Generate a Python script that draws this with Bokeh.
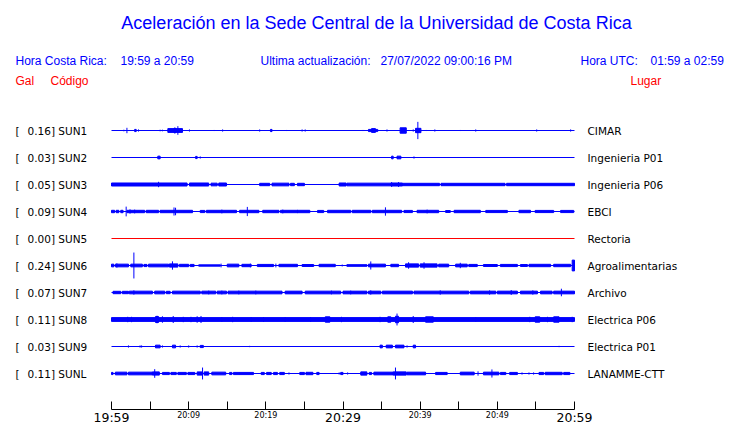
from bokeh.plotting import figure
from bokeh.models import Label, FixedTicker, Range1d, ColumnDataSource, LinearAxis
from bokeh.embed import file_html
from bokeh.resources import INLINE

# ---------------- data ----------------
title_text = "Aceleración en la Sede Central de la Universidad de Costa Rica"
hora_cr = "19:59 a 20:59"
hora_utc = "01:59 a 02:59"
actualizacion = "27/07/2022 09:00:16 PM"

stations = ["SUN1", "SUN2", "SUN3", "SUN4", "SUN5", "SUN6", "SUN7", "SUN8", "SUN9", "SUNL"]
peak_gal = [0.16, 0.03, 0.05, 0.09, 0.00, 0.24, 0.07, 0.11, 0.03, 0.11]
places = ["CIMAR", "Ingenieria P01", "Ingenieria P06", "EBCI", "Rectoria",
          "Agroalimentarias", "Archivo", "Electrica P06", "Electrica P01", "LANAMME-CTT"]
trace_colors = ["#0000ff", "#0000ff", "#0000ff", "#0000ff", "#ff0000",
                "#0000ff", "#0000ff", "#0000ff", "#0000ff", "#0000ff"]

small_label_minutes = [10, 20, 40, 50]
small_label_texts = ["20:09", "20:19", "20:39", "20:49"]
other_tick_minutes = [0, 5, 15, 25, 30, 35, 45, 55, 60]
big_label_minutes = [0, 30, 60]
big_label_texts = ["19:59", "20:29", "20:59"]

# bursts: (start minute, end minute, half amplitude in Gal); start == end -> spike
sun1 = [(1.6, 1.6, 0.015), (2.0, 2.0, 0.05), (3.0, 3.2, 0.02), (3.5, 3.5, 0.02), (6.3, 6.3, 0.015),
        (6.6, 6.6, 0.015), (7.3, 9.2, 0.035), (8.1, 8.3, 0.045), (8.6, 8.6, 0.08), (10.1, 10.1, 0.02),
        (13.3, 13.3, 0.01), (14.4, 14.4, 0.02), (19.2, 19.2, 0.02), (20.6, 20.8, 0.02), (22.7, 22.7, 0.01),
        (24.7, 24.7, 0.02), (25.1, 25.1, 0.02), (32.5, 32.5, 0.01), (32.7, 32.7, 0.01), (33.3, 34.5, 0.02),
        (33.7, 34.2, 0.035), (35.7, 35.7, 0.02), (37.4, 38.2, 0.05), (39.1, 39.1, 0.02), (39.4, 40.1, 0.04),
        (39.7, 39.7, 0.16), (40.8, 40.8, 0.01), (41.9, 41.9, 0.02), (45.2, 45.2, 0.01), (47.2, 47.2, 0.02),
        (55.1, 55.1, 0.02), (59.5, 59.5, 0.02)]
sun2 = [(6.0, 6.3, 0.025), (10.9, 11.1, 0.02), (11.5, 11.5, 0.02), (36.3, 36.5, 0.025),
        (37.0, 37.5, 0.025), (39.2, 39.2, 0.02)]
sun3 = [(0.0, 9.8, 0.028), (6.1, 6.1, 0.05), (10.1, 12.6, 0.028), (12.9, 13.7, 0.025), (13.9, 14.9, 0.028),
        (19.2, 20.5, 0.022), (20.8, 23.0, 0.025), (23.2, 23.7, 0.022), (24.1, 25.0, 0.022),
        (29.5, 30.4, 0.028), (30.5, 36.2, 0.025), (36.2, 37.7, 0.028), (36.3, 36.3, 0.045),
        (37.2, 37.2, 0.045), (37.7, 42.5, 0.022), (42.7, 51.0, 0.022), (51.2, 60.0, 0.022)]
sun4 = [(0.0, 0.4, 0.022), (0.6, 0.95, 0.022), (1.2, 1.5, 0.022), (1.9, 1.9, 0.09), (2.0, 4.3, 0.022),
        (2.4, 2.4, 0.04), (3.0, 3.0, 0.035), (4.5, 6.1, 0.022), (6.3, 10.5, 0.022), (8.1, 8.1, 0.075),
        (8.3, 8.3, 0.07), (11.5, 12.1, 0.02), (12.3, 16.2, 0.022), (14.3, 14.3, 0.035), (16.6, 19.1, 0.022),
        (17.6, 17.6, 0.085), (19.6, 21.7, 0.022), (21.9, 25.7, 0.022), (22.2, 22.2, 0.035),
        (24.1, 24.1, 0.03), (26.7, 27.5, 0.02), (28.0, 31.0, 0.022), (31.2, 33.6, 0.022),
        (33.8, 37.6, 0.022), (35.5, 35.5, 0.077), (37.9, 39.0, 0.02), (39.6, 42.4, 0.022),
        (40.9, 40.9, 0.035), (43.3, 43.9, 0.018), (44.4, 47.8, 0.022), (48.5, 51.3, 0.02),
        (52.8, 54.3, 0.022), (54.9, 57.3, 0.02), (58.2, 59.9, 0.02)]
sun5 = []
sun6 = [(0.0, 0.3, 0.025), (0.5, 2.2, 0.025), (0.7, 0.7, 0.04), (2.5, 4.0, 0.025), (2.9, 2.9, 0.24),
        (4.2, 4.6, 0.02), (4.8, 7.4, 0.025), (7.5, 8.6, 0.03), (7.9, 7.9, 0.077), (8.8, 10.0, 0.022),
        (10.2, 10.7, 0.02), (11.3, 14.1, 0.012), (14.2, 14.2, 0.035), (15.0, 16.5, 0.025),
        (16.9, 18.1, 0.022), (18.0, 18.0, 0.035), (18.9, 21.0, 0.02), (21.3, 21.3, 0.035),
        (21.7, 24.1, 0.022), (24.7, 26.2, 0.018), (26.9, 29.0, 0.022), (29.9, 29.9, 0.018),
        (30.5, 33.1, 0.015), (33.3, 35.5, 0.025), (33.6, 33.6, 0.075), (36.2, 37.2, 0.022),
        (38.1, 39.8, 0.03), (38.5, 38.5, 0.06), (40.0, 42.2, 0.03), (40.5, 40.5, 0.06),
        (42.4, 43.7, 0.025), (44.6, 46.1, 0.025), (45.2, 45.2, 0.05), (46.3, 47.4, 0.02),
        (48.2, 50.0, 0.018), (50.4, 52.6, 0.02), (53.0, 53.9, 0.018), (54.1, 56.9, 0.022),
        (57.3, 59.5, 0.022), (59.7, 60.0, 0.1)]
sun7 = [(0.2, 1.2, 0.022), (1.4, 2.2, 0.022), (2.3, 5.3, 0.025), (2.9, 2.9, 0.04), (5.6, 6.9, 0.025),
        (7.1, 7.6, 0.022), (7.9, 11.5, 0.025), (11.7, 13.5, 0.025), (12.6, 12.6, 0.035),
        (13.7, 14.9, 0.025), (14.3, 14.3, 0.035), (15.1, 22.1, 0.025), (16.5, 16.5, 0.035),
        (18.7, 18.7, 0.035), (22.5, 24.7, 0.025), (25.1, 29.7, 0.025), (28.5, 28.5, 0.035),
        (30.0, 33.1, 0.025), (31.0, 31.0, 0.035), (33.3, 34.9, 0.025), (33.6, 33.6, 0.04),
        (35.1, 39.0, 0.025), (39.2, 46.3, 0.025), (42.6, 42.6, 0.04), (46.5, 49.8, 0.025),
        (49.0, 49.0, 0.04), (50.0, 52.6, 0.025), (51.8, 51.8, 0.045), (53.0, 55.2, 0.025),
        (54.6, 54.6, 0.04), (55.6, 57.1, 0.025), (57.3, 60.0, 0.025), (58.3, 58.3, 0.07)]
sun8 = [(0.0, 60.0, 0.035), (2.1, 2.1, 0.05), (2.6, 2.6, 0.05), (5.7, 6.1, 0.055), (5.9, 5.9, 0.07),
        (6.6, 6.6, 0.06), (8.0, 8.0, 0.065), (9.3, 9.3, 0.05), (10.3, 10.3, 0.05), (11.1, 11.1, 0.06),
        (11.6, 11.6, 0.065), (14.3, 14.3, 0.045), (15.7, 15.7, 0.05), (18.1, 18.1, 0.045),
        (19.7, 19.7, 0.045), (22.5, 22.5, 0.045), (25.8, 25.8, 0.045), (27.7, 28.3, 0.05),
        (29.8, 29.8, 0.05), (34.8, 34.8, 0.05), (35.8, 36.2, 0.05), (36.8, 37.2, 0.06),
        (37.0, 37.0, 0.11), (39.1, 39.1, 0.065), (40.7, 41.7, 0.05), (47.2, 47.2, 0.04),
        (54.2, 54.2, 0.05), (54.9, 55.5, 0.05), (56.5, 56.5, 0.05), (57.3, 58.0, 0.05), (59.7, 59.7, 0.05)]
sun9 = [(2.2, 2.2, 0.02), (3.7, 3.7, 0.02), (3.9, 3.9, 0.02), (5.7, 6.3, 0.025), (6.6, 6.6, 0.02),
        (7.9, 8.3, 0.025), (8.9, 8.9, 0.02), (10.0, 10.0, 0.02), (11.1, 11.1, 0.02), (11.5, 11.9, 0.02),
        (17.9, 17.9, 0.012), (34.8, 35.1, 0.025), (35.6, 36.4, 0.025), (36.8, 37.9, 0.025),
        (38.3, 38.3, 0.02), (39.1, 39.4, 0.025), (58.0, 58.0, 0.012)]
sunl = [(0.0, 0.2, 0.02), (0.5, 2.0, 0.025), (2.2, 5.3, 0.025), (5.3, 6.2, 0.03), (5.6, 5.6, 0.08),
        (6.6, 7.5, 0.02), (7.7, 8.4, 0.02), (8.6, 9.7, 0.02), (9.9, 10.8, 0.02), (11.1, 11.8, 0.03),
        (11.8, 11.8, 0.11), (12.0, 12.6, 0.03), (13.0, 14.8, 0.025), (15.3, 15.6, 0.02),
        (15.8, 16.5, 0.02), (16.5, 18.4, 0.02), (19.4, 19.8, 0.02), (20.1, 20.7, 0.02),
        (21.0, 21.5, 0.02), (21.8, 22.4, 0.02), (23.0, 23.0, 0.02), (24.4, 25.0, 0.02),
        (25.2, 26.1, 0.022), (26.6, 26.9, 0.02), (29.5, 29.5, 0.02), (29.7, 30.0, 0.02),
        (30.6, 30.6, 0.02), (32.3, 33.1, 0.03), (33.4, 33.7, 0.02), (34.0, 36.5, 0.025),
        (36.5, 38.2, 0.03), (36.8, 36.8, 0.11), (38.3, 40.7, 0.025), (42.0, 43.5, 0.02),
        (45.2, 47.0, 0.025), (47.5, 47.5, 0.04), (48.2, 50.2, 0.025), (49.3, 49.3, 0.075),
        (50.4, 51.1, 0.02), (51.6, 52.6, 0.02), (53.2, 53.2, 0.02), (54.1, 54.1, 0.02),
        (54.7, 54.7, 0.02), (55.4, 56.0, 0.02), (56.2, 58.4, 0.022), (58.6, 59.4, 0.02)]
bursts = [sun1, sun2, sun3, sun4, sun5, sun6, sun7, sun8, sun9, sunl]

# ---------------- layout (canvas px == page px) ----------------
W, H = 740, 423
PX_PER_MIN = 463 / 60.0      # horizontal scale
ORIGIN_X = 111               # px of 19:59
BASE0_Y = 130                # px of first trace baseline
PX_PER_GAL = 54.0            # common amplitude scale
LANE = 0.5                   # Gal between baselines
AXIS_Y = 409                 # px of the time axis line

x_start = -ORIGIN_X / PX_PER_MIN
x_end = x_start + W / PX_PER_MIN
y_top = BASE0_Y / PX_PER_GAL
y_bot = y_top - H / PX_PER_GAL


def X(px):  # px -> data x
    return x_start + px / PX_PER_MIN


def Y(py):  # px -> data y
    return y_top - py / PX_PER_GAL


p = figure(width=W, height=H, output_backend="svg", toolbar_location=None,
           x_range=Range1d(x_start, x_end), y_range=Range1d(y_bot, y_top),
           y_axis_location=None, title_location=None,
           min_border_left=0, min_border_right=0, min_border_top=0, min_border_bottom=0)
p.outline_line_color = None
p.grid.visible = False
p.background_fill_color = "white"
p.border_fill_color = "white"

# axis with ticks and the small time labels
ax = p.xaxis[0]
ax.fixed_location = Y(AXIS_Y)
ax.ticker = FixedTicker(ticks=small_label_minutes, minor_ticks=other_tick_minutes)
ax.bounds = (0, 60)
ax.major_tick_in = 8
ax.major_tick_out = 0
ax.minor_tick_in = 8
ax.minor_tick_out = 0
ax.minor_tick_line_color = "black"
ax.major_tick_line_color = "black"
ax.axis_line_color = "black"
ax.major_label_overrides = {m: t for m, t in zip(small_label_minutes, small_label_texts)}
ax.major_label_text_font = "DejaVu Sans"
ax.major_label_text_font_size = "8px"
ax.major_label_text_color = "black"
ax.major_label_standoff = 1

# second axis on the same line carrying the large time labels
ax2 = LinearAxis(ticker=FixedTicker(ticks=big_label_minutes, minor_ticks=[]), bounds=(0, 60),
                 fixed_location=Y(AXIS_Y),
                 axis_line_color=None, major_tick_line_color=None, minor_tick_line_color=None,
                 major_tick_in=0, major_tick_out=0,
                 major_label_overrides={m: t for m, t in zip(big_label_minutes, big_label_texts)},
                 major_label_text_font="DejaVu Sans", major_label_text_font_size="12.5px",
                 major_label_text_color="black", major_label_standoff=0)
p.add_layout(ax2, "below")

for k, st in enumerate(stations):
    base = -LANE * k
    col = trace_colors[k]
    p.line([0, 60], [base, base], line_color=col, line_width=1)
    q = dict(l=[], r=[], b=[], t=[])
    s = dict(x=[], y0=[], y1=[])
    for (t0, t1, a) in bursts[k]:
        if t1 > t0:
            q["l"].append(t0); q["r"].append(t1)
            q["b"].append(base - a); q["t"].append(base + a)
        else:
            s["x"].append(t0); s["y0"].append(base - a); s["y1"].append(base + a)
    if q["l"]:
        p.quad(left="l", right="r", bottom="b", top="t", source=ColumnDataSource(q),
               fill_color=col, line_color=col, line_width=1)
    if s["x"]:
        p.segment(x0="x", y0="y0", x1="x", y1="y1", source=ColumnDataSource(s),
                  line_color=col, line_width=1)

    yc = Y(130 + 27 * k)
    p.add_layout(Label(x=X(15), y=yc, text="[", text_font="DejaVu Sans", text_font_size="10.5px",
                       text_baseline="middle", text_color="black"))
    p.add_layout(Label(x=X(27), y=yc, text="%.2f] %s" % (peak_gal[k], st), text_font="DejaVu Sans",
                       text_font_size="10.5px", text_baseline="middle", text_color="black"))
    p.add_layout(Label(x=X(587), y=yc, text=places[k], text_font="DejaVu Sans",
                       text_font_size="10.5px", text_baseline="middle", text_color="black"))

# title and header
BLUE = "#0000ff"
RED = "#ff0000"
p.add_layout(Label(x=X(376), y=Y(22), text=title_text, text_align="center", text_baseline="middle",
                   text_font="Liberation Sans", text_font_size="18px", text_color=BLUE))
hdr = [(15, "Hora Costa Rica:", BLUE, 60), (120, hora_cr, BLUE, 60),
       (260, "Ultima actualización:", BLUE, 60), (380, actualizacion, BLUE, 60),
       (580, "Hora UTC:", BLUE, 60), (650, hora_utc, BLUE, 60),
       (15, "Gal", RED, 80), (50, "Código", RED, 80), (630, "Lugar", RED, 80)]
for (hx, txt, c, hy) in hdr:
    p.add_layout(Label(x=X(hx), y=Y(hy), text=txt, text_baseline="middle", text_font="Liberation Sans",
                       text_font_size="12px", text_color=c))

open("out.html", "w").write(file_html(p, INLINE))
